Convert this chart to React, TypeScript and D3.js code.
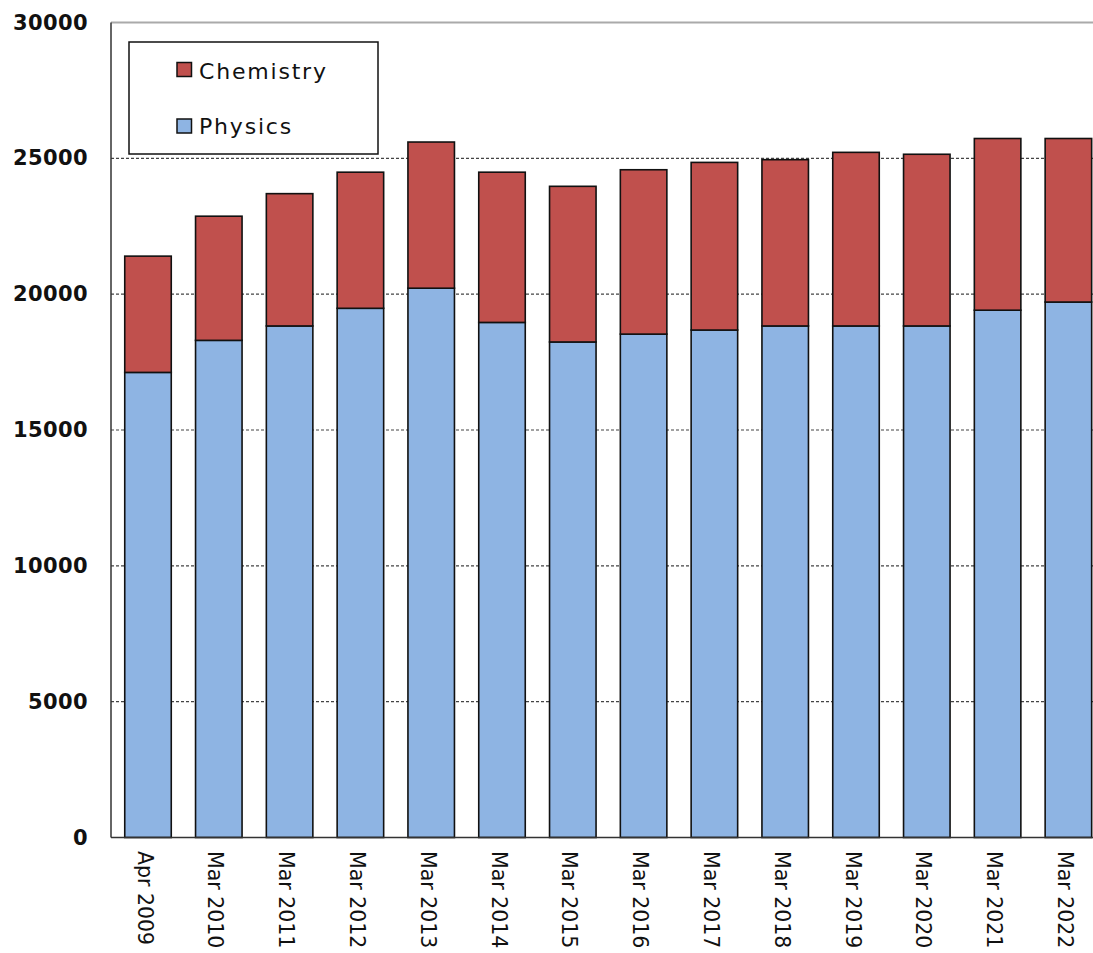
import React from "react";
import * as d3 from "d3";

const categories = ["Apr 2009","Mar 2010","Mar 2011","Mar 2012","Mar 2013","Mar 2014","Mar 2015","Mar 2016","Mar 2017","Mar 2018","Mar 2019","Mar 2020","Mar 2021","Mar 2022"];
const physics = [17120,18300,18830,19480,20220,18960,18240,18530,18680,18830,18830,18830,19410,19710];
const chemistry = [4280,4570,4870,5010,5380,5530,5730,6050,6170,6120,6390,6320,6320,6020];
const yTicks = [0,5000,10000,15000,20000,25000,30000];
const seriesNames = ["Physics","Chemistry"];
const seriesColors = ["#8EB4E3","#C0504D"];

const W = 1093, H = 953;
const plotLeft = 111, plotRight = 1093, plotTop = 22.5, plotBottom = 837.5;

export default function App() {
  const x = d3.scaleBand<string>().domain(categories).range([112.6, 1103.8]).paddingInner(0.343).paddingOuter(0.1715);
  const y = d3.scaleLinear().domain([0, 30000]).range([plotBottom, plotTop]);
  const table = categories.map((c, i) => ({ cat: c, Physics: physics[i], Chemistry: chemistry[i] }));
  const stacked = d3.stack<any>().keys(seriesNames)(table);

  return (
    <svg width={W} height={H} style={{ position: "absolute", left: 0, top: 0, background: "#fff" }}>
      {/* gridlines */}
      {yTicks.filter(t => t > 0 && t < 30000).map(t => (
        <line key={t} x1={plotLeft} x2={plotRight} y1={y(t)} y2={y(t)} stroke="#444" strokeWidth={1.2} strokeDasharray="3,2" />
      ))}
      <line x1={plotLeft} x2={plotRight} y1={y(30000)} y2={y(30000)} stroke="#aaa" strokeWidth={2} />
      {/* bars */}
      {stacked.map((s, si) => (
        <g key={seriesNames[si]}>
          {s.map((d, i) => (
            <rect key={i} x={x(categories[i])} width={x.bandwidth()} y={y(d[1])} height={y(d[0]) - y(d[1])}
              fill={seriesColors[si]} stroke="#111" strokeWidth={1.6} />
          ))}
        </g>
      ))}
      {/* axes */}
      <line x1={plotLeft} x2={plotLeft} y1={plotTop} y2={plotBottom} stroke="#333" strokeWidth={1.5} />
      <line x1={plotLeft} x2={plotRight} y1={plotBottom} y2={plotBottom} stroke="#333" strokeWidth={1.5} />
      {yTicks.map(t => (
        <text key={t} x={88} y={y(t)} textAnchor="end" dominantBaseline="central"
          fontFamily="DejaVu Sans, Verdana, sans-serif" fontWeight="bold" fontSize={21} letterSpacing={0.4} fill="#111">{t}</text>
      ))}
      {categories.map(c => {
        const cx = (x(c) as number) + x.bandwidth() / 2;
        return (
          <text key={c} transform={`translate(${cx - 10.5},851) rotate(90)`} textAnchor="start"
            fontFamily="DejaVu Sans, Verdana, sans-serif" fontSize={20.5} fill="#111">{c}</text>
        );
      })}
      {/* legend */}
      <rect x={129} y={42} width={249} height={112} fill="#fff" stroke="#111" strokeWidth={1.5} />
      {[1, 0].map((si, k) => (
        <g key={si}>
          <rect x={177} y={62.5 + k * 56.5} width={14.5} height={14} fill={seriesColors[si]} stroke="#111" strokeWidth={1.5} />
          <text x={199} y={78.5 + k * 55} fontFamily="DejaVu Sans, Verdana, sans-serif" fontSize={22} letterSpacing={1.8} fill="#111">{seriesNames[si]}</text>
        </g>
      ))}
    </svg>
  );
}
